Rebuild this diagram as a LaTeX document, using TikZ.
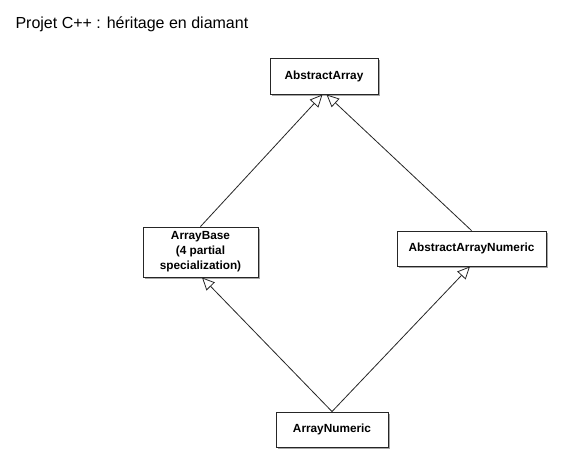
\documentclass[tikz,border=0pt]{standalone}
\usepackage{fontspec}
\setmainfont{Liberation Sans}
\usetikzlibrary{arrows.meta,shadows,calc}
\begin{document}
\begin{tikzpicture}[x=1pt,y=-1pt,
  cls/.style={draw=black!85, line width=0.9pt, fill=white, inner sep=0pt, align=center,
    font=\fontsize{11.8}{15}\selectfont\bfseries,
    drop shadow={shadow xshift=1.6pt, shadow yshift=-1.6pt, fill=black!35, opacity=1}},
  inh/.style={draw=black!85, line width=0.8pt, -{Triangle[open,length=12.5pt,width=11.5pt,line width=0.8pt]}}]
\path[use as bounding box, fill=white] (0,0) rectangle (561,464);
\node[anchor=base west, font=\fontsize{16}{18}\selectfont] (title) at (12,28) {Projet C++ : héritage en diamant};
\node[cls, minimum width=108pt, minimum height=36pt] (aa) at (324,76) {AbstractArray};
\node[cls, minimum width=115pt, minimum height=50pt] (ab) at (200.5,252) {ArrayBase\\(4 partial\\specialization)};
\node[cls, minimum width=149pt, minimum height=35pt] (aan) at (471.5,248.5) {AbstractArrayNumeric};
\node[cls, minimum width=112pt, minimum height=35pt] (an) at (332,429.5) {ArrayNumeric};
\draw[inh] (ab.north) -- ($(aa.south)+(-1.5,0)$);
\draw[inh] (aan.north) -- ($(aa.south)+(2.5,0)$);
\draw[inh] (an.north) -- ($(ab.south)+(1.5,0)$);
\draw[inh] (an.north) -- ($(aan.south)+(-1.5,0)$);
\end{tikzpicture}
\end{document}
